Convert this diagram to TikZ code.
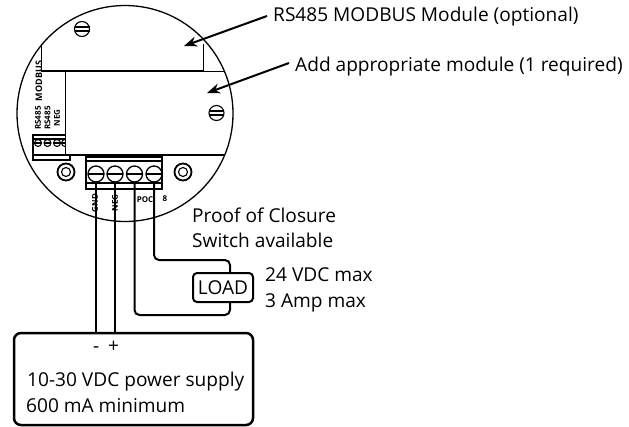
\documentclass[tikz,border=0pt]{standalone}
\usepackage{fontspec}
\setmainfont{Open Sans}
\usetikzlibrary{arrows.meta}
\tikzset{
  lbl/.style={inner sep=0pt,anchor=base west,font=\fontsize{19.1}{22}\selectfont},
  tiny/.style={inner sep=0pt,rotate=90,font=\fontsize{8}{9}\selectfont\bfseries},
  wire/.style={line width=2pt,rounded corners=5pt},
  pointer/.style={line width=2pt,-{Stealth[length=13pt,width=10pt]}},
  screw/.style={draw,circle,line width=1.1pt,fill=white,minimum size=15pt,inner sep=0pt}
}
\begin{document}
\begin{tikzpicture}[x=1pt,y=-1pt]
\useasboundingbox (0,0) rectangle (629,426);
\node [draw,circle,line width=1.3pt,minimum size=216pt,inner sep=0pt] (body) at(125,113.5){};

%upper module
\coordinate (ul) at(41,44);
\coordinate (ub) at(41,71);
\coordinate (ur) at(203.5,44);
\coordinate (uc) at(203.5,71);
\coordinate (ue) at(224,71);
\draw [line width=1pt](ul) -- (ub) -- (uc) -- (ur);
\draw [line width=1pt](uc) -- (ue);

%left connector
\draw [line width=1.1pt] (33,135) rectangle (70,160);
\draw [line width=1.1pt] (33,139) -- (70,139);
\draw [line width=1.1pt] (33,155) -- (70,155);
\foreach \xpos in {38,47.5,57,65}{
  \node [draw,circle,line width=1.1pt,minimum size=7pt,inner sep=0pt] at(\xpos,143){};
  \draw [line width=1.1pt] (\xpos-3.5,143) -- (\xpos+3.5,143);
}
\node [tiny] (lc1) at(38,118){RS485};
\node [tiny] (lc2) at(47.5,118){RS485};
\node [tiny] (lc3) at(57,118){NEG};
\node [tiny,font=\fontsize{9}{9}\selectfont\bfseries] (lc0) at(39,81){MODBUS};

%lower module
\fill [white] (65,71.5) rectangle (224,155);
\draw [line width=1.5pt](ub) -- (uc);
\coordinate (ml) at(65.5,71);
\coordinate (mb) at(65.5,155);
\coordinate (me) at(224.5,155);
\draw [line width=1.3pt](ml) -- (mb) -- (me);

%screws
\foreach \xpos/\ypos/\nm in {82/29/s1,216.5/113/s2}{
  \node [screw] (\nm) at(\xpos,\ypos){};
  \draw [line width=1.1pt] (\xpos-7.5,\ypos-2) -- (\xpos+7.5,\ypos-2);
  \draw [line width=1.1pt] (\xpos-7.5,\ypos+2) -- (\xpos+7.5,\ypos+2);
}
\foreach \xpos/\nm in {66/r1,183/r2}{
  \node [draw,circle,line width=1.8pt,minimum size=17pt,inner sep=0pt] (\nm) at(\xpos,172){};
  \node [draw,circle,line width=1.1pt,minimum size=9pt,inner sep=0pt] at(\xpos,172){};
}

%terminal block
\draw [line width=1.1pt] (86,157) rectangle (162,189);
\draw [line width=1.1pt] (86,161) -- (162,161);
\draw [line width=1.1pt] (86,183) -- (162,183);
\foreach \xpos/\nm in {96/t1,115/t2,134.5/t3,154/t4}{
  \node [screw,line width=1.3pt,minimum size=16pt] (\nm) at(\xpos,174){};
  \draw [line width=1.3pt] (\xpos-8,174) -- (\xpos+8,174);
}
\node [tiny] (g1) at(95,203){GND};
\node [tiny] (g2) at(115,203){NEG};
\node [inner sep=0pt,font=\fontsize{8}{8}\selectfont\bfseries] (g3) at(145,200){POC};
\node [inner sep=0pt,font=\fontsize{8}{8}\selectfont\bfseries] (g4) at(165,199){8};

%supply and load
\node [draw,line width=2.5pt,rounded corners=7pt,minimum width=239pt,minimum height=92pt,inner sep=0pt] (supply) at(133.5,379){};
\node [draw,line width=2pt,rounded corners=4pt,minimum width=60pt,minimum height=29pt,inner sep=0pt,font=\fontsize{19.1}{22}\selectfont] (load) at(223,287.5){LOAD};

\draw[wire](t1.south) -- (t1.south |- supply.north);
\draw[wire](t2.south) -- (t2.south |- supply.north);
\coordinate (c3) at(230,315);
\coordinate (c4) at(230,260);
\draw[wire](t3.south) |- (c3) -- (c3 |- load.south);
\draw[wire](t4.south) |- (c4) -- (c4 |- load.north);

%labels
\node [lbl] (n1) at(273,21){RS485 MODBUS Module (optional)};
\node [lbl] (n2) at(295,71){Add appropriate module (1 required)};
\node [lbl] (poc1) at(192,222){Proof of Closure};
\node [lbl] (poc2) at(192,247){Switch available};
\node [lbl] (v1) at(265,281){24 VDC max};
\node [lbl] (v2) at(265,307){3 Amp max};
\node [lbl] (minus) at(93,352){-};
\node [lbl] (plus) at(108,352){+};
\node [lbl] (p1) at(27,386){10-30 VDC power supply};
\node [lbl] (p2) at(26,412){600 mA minimum};

\coordinate (b1) at(267,16);
\coordinate (a1) at(184,46);
\coordinate (b2) at(289,63);
\coordinate (a2) at(207,93);
\draw[pointer](b1) -- (a1);
\draw[pointer](b2) -- (a2);
\end{tikzpicture}
\end{document}
